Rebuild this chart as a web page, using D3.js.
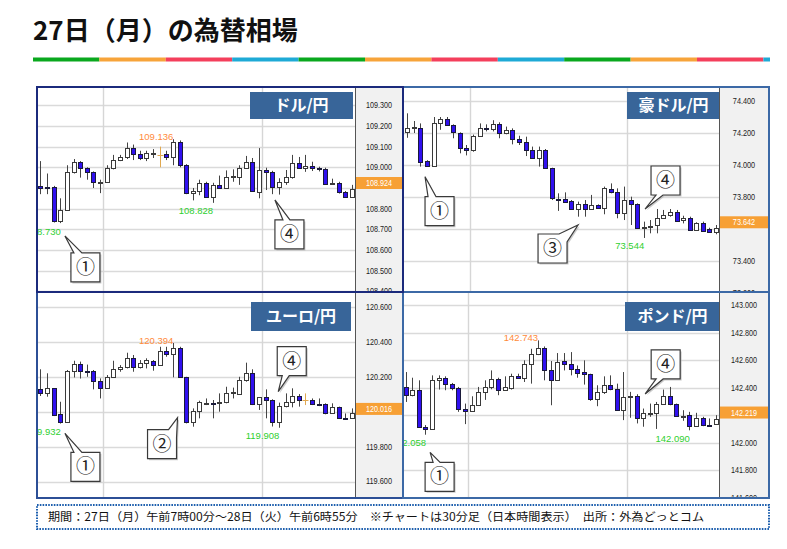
<!DOCTYPE html>
<html><head><meta charset="utf-8">
<script src="https://cdn.jsdelivr.net/npm/d3@7"></script>
<style>body{margin:0;background:#fff}svg{display:block}</style>
</head><body>
<div id="chart"></div>
<script>
// ---------------- data ----------------
const titleText = "27日（月）の為替相場";
const footerText = "期間：27日（月）午前7時00分～28日（火）午前6時55分　※チャートは30分足（日本時間表示）　出所：外為どっとコム";
const stripeColors = ["#0aa81e", "#f7a43a", "#f43f5c", "#1eaad6"];
const pairNames = ["ドル/円", "豪ドル/円", "ユーロ/円", "ポンド/円"];
const gridIdx = [9.5, 33.5]; // 12:00 and 0:00 boundaries

const usdOpen  = [108.910,108.906,108.905,108.740,108.795,108.975,109.025,108.995,108.975,108.929,108.931,108.995,109.035,109.050,109.095,109.065,109.045,109.066,109.060,109.062,109.051,109.124,109.010,108.875,108.886,108.923,108.858,108.915,108.898,108.952,108.955,108.998,109.024,108.880,108.987,108.979,108.907,108.927,108.955,109.020,108.998,109.008,108.995,108.994,108.918,108.925,108.882,108.858];
const usdHigh  = [109.030,108.970,108.910,108.850,109.010,109.040,109.030,109.000,108.980,108.940,109.010,109.060,109.060,109.120,109.110,109.080,109.080,109.088,109.100,109.080,109.136,109.130,109.015,108.900,108.940,108.930,108.925,108.960,108.985,108.990,109.010,109.055,109.045,109.093,108.998,108.983,108.947,108.987,109.060,109.050,109.060,109.027,109.003,108.998,108.945,108.930,108.885,108.915];
const usdLow   = [108.870,108.870,108.733,108.730,108.790,108.970,108.950,108.940,108.900,108.875,108.930,108.990,109.030,109.040,109.035,109.035,109.030,109.045,109.000,109.035,109.010,109.000,108.870,108.840,108.865,108.853,108.828,108.895,108.895,108.930,108.915,108.995,108.882,108.850,108.890,108.870,108.868,108.915,108.945,108.995,108.978,108.982,108.980,108.915,108.915,108.873,108.855,108.855];
const usdClose = [108.900,108.898,108.740,108.795,108.975,109.025,108.995,108.975,108.930,108.931,108.995,109.035,109.050,109.095,109.065,109.045,109.068,109.068,109.060,109.051,109.124,109.010,108.875,108.886,108.923,108.858,108.915,108.898,108.955,108.957,108.998,109.024,108.885,108.987,108.979,108.907,108.927,108.955,109.020,108.998,109.008,108.995,108.994,108.918,108.925,108.882,108.858,108.893];

const audOpen  = [74.208,74.234,74.233,74.025,73.996,74.260,74.285,74.250,74.202,74.108,74.092,74.183,74.233,74.223,74.254,74.198,74.219,74.160,74.142,74.094,74.046,74.094,73.979,73.790,73.785,73.775,73.725,73.754,73.725,73.750,73.729,73.850,73.833,73.698,73.781,73.754,73.608,73.610,73.625,73.671,73.688,73.704,73.658,73.671,73.594,73.635,73.600,73.583];
const audHigh  = [74.323,74.275,74.260,74.030,74.300,74.300,74.300,74.254,74.204,74.125,74.190,74.260,74.254,74.280,74.267,74.240,74.229,74.183,74.177,74.115,74.115,74.100,73.983,73.823,73.829,73.781,73.771,73.781,73.813,73.754,73.865,73.885,73.854,73.865,73.802,73.760,73.646,73.656,73.725,73.719,73.725,73.719,73.683,73.677,73.642,73.646,73.608,73.625];
const audLow   = [74.170,74.200,73.990,73.990,73.996,74.220,74.246,74.167,74.073,74.060,74.083,74.177,74.210,74.210,74.167,74.192,74.129,74.125,74.056,74.038,73.990,73.975,73.781,73.713,73.767,73.719,73.677,73.677,73.720,73.725,73.692,73.823,73.667,73.656,73.625,73.604,73.544,73.573,73.573,73.667,73.677,73.646,73.635,73.588,73.588,73.583,73.579,73.567];
const audClose = [74.230,74.236,74.020,73.996,74.260,74.285,74.250,74.204,74.108,74.092,74.183,74.229,74.225,74.254,74.198,74.219,74.160,74.142,74.094,74.046,74.094,73.979,73.792,73.785,73.771,73.725,73.754,73.725,73.750,73.729,73.854,73.833,73.698,73.781,73.754,73.608,73.610,73.619,73.671,73.688,73.704,73.650,73.671,73.594,73.635,73.590,73.583,73.604];

const eurOpen  = [120.130,120.105,120.134,119.985,119.940,120.233,120.271,120.233,120.233,120.176,120.138,120.201,120.243,120.254,120.309,120.258,120.281,120.292,120.267,120.347,120.330,120.363,120.197,119.943,120.006,120.044,120.050,120.048,120.053,120.105,120.100,120.181,120.224,120.042,120.082,120.067,119.939,120.032,120.057,120.090,120.067,120.067,120.042,120.042,119.990,120.025,119.963,119.962];
const eurHigh  = [120.243,120.220,120.134,120.057,120.239,120.292,120.287,120.270,120.239,120.191,120.210,120.292,120.267,120.338,120.325,120.296,120.306,120.296,120.372,120.372,120.394,120.372,120.200,120.019,120.063,120.076,120.067,120.105,120.143,120.138,120.200,120.281,120.243,120.082,120.128,120.071,120.052,120.105,120.134,120.101,120.105,120.076,120.076,120.048,120.048,120.029,119.990,120.019];
const eurLow   = [120.090,120.086,119.975,119.932,119.939,120.196,120.190,120.200,120.128,120.076,120.138,120.196,120.229,120.248,120.229,120.248,120.248,120.235,120.262,120.315,120.197,120.197,119.933,119.914,119.962,120.038,119.962,120.000,120.048,120.076,120.096,120.172,120.038,120.010,119.962,119.915,119.908,120.025,120.025,120.029,120.038,120.038,120.032,119.985,119.987,119.958,119.960,119.958];
const eurClose = [120.105,120.134,119.981,119.943,120.233,120.271,120.233,120.232,120.176,120.138,120.201,120.243,120.254,120.309,120.258,120.281,120.296,120.267,120.347,120.330,120.363,120.197,119.939,120.006,120.053,120.050,120.048,120.053,120.109,120.115,120.181,120.224,120.042,120.082,120.067,119.939,120.032,120.057,120.090,120.067,120.067,120.042,120.040,119.990,120.025,119.962,119.962,119.990];

const gbpOpen  = [142.405,142.345,142.386,142.116,142.096,142.453,142.472,142.424,142.400,142.248,142.231,142.272,142.369,142.405,142.465,142.386,142.400,142.482,142.472,142.569,142.641,142.689,142.525,142.453,142.590,142.569,142.537,142.513,142.496,142.320,142.369,142.422,142.393,142.236,142.333,142.342,142.176,142.217,142.217,142.280,142.337,142.280,142.193,142.198,142.120,142.183,142.130,142.135];
const gbpHigh  = [142.513,142.472,142.453,142.128,142.489,142.489,142.482,142.434,142.405,142.284,142.337,142.405,142.453,142.525,142.472,142.482,142.501,142.501,142.598,142.682,142.743,142.699,142.593,142.651,142.651,142.658,142.561,142.598,142.501,142.417,142.482,142.489,142.429,142.513,142.369,142.352,142.248,142.284,142.296,142.386,142.405,142.284,142.236,142.224,142.217,142.188,142.176,142.200];
const gbpLow   = [142.296,142.337,142.111,142.058,142.096,142.386,142.381,142.381,142.224,142.135,142.231,142.272,142.311,142.388,142.345,142.381,142.386,142.465,142.441,142.429,142.636,142.453,142.272,142.453,142.525,142.489,142.472,142.422,142.304,142.265,142.354,142.381,142.231,142.164,142.181,142.140,142.116,142.188,142.100,142.280,142.272,142.188,142.159,142.090,142.116,142.120,142.125,142.135];
const gbpClose = [142.345,142.386,142.116,142.096,142.453,142.472,142.429,142.400,142.248,142.231,142.272,142.369,142.405,142.465,142.386,142.405,142.482,142.472,142.569,142.641,142.689,142.525,142.453,142.586,142.569,142.537,142.506,142.496,142.320,142.369,142.422,142.393,142.236,142.333,142.342,142.176,142.217,142.219,142.280,142.337,142.280,142.193,142.195,142.120,142.183,142.128,142.128,142.169];

const lastPrices = [108.924, 73.642, 120.016, 142.219];
const usdTicks = [108.4,108.5,108.6,108.7,108.8,108.9,109.0,109.1,109.2,109.3];
const audTicks = [73.2,73.4,73.6,73.8,74.0,74.2,74.4];
const eurTicks = [119.6,119.8,120.0,120.2,120.4,120.6,120.8];
const gbpTicks = [141.6,141.8,142.0,142.2,142.4,142.6,142.8,143.0];

// labelled extremes: [bar index, "high"|"low"]
const usdMarks = [[20,"high"],[3,"low"],[26,"low"]];
const audMarks = [[36,"low"]];
const eurMarks = [[20,"high"],[3,"low"],[36,"low"]];
const gbpMarks = [[20,"high"],[3,"low"],[43,"low"]];

// callouts: [label, tip bar position, tip price, box dx, box dy, tail type]
const usdCallouts = [["①",3.7,108.668,6,17,"tl"],["④",35.4,108.842,0,20,"tl2"]];
const audCallouts = [["①",2.7,73.927,0,20,"tl"],["③",26.0,73.625,-40,9,"tr"],["④",36.2,73.725,6,-43,"bl"]];
const eurCallouts = [["①",3.7,119.876,6,19,"tl"],["②",20.7,119.966,-30,12,"tr"],["④",35.9,120.115,-1,-45,"bl"]];
const gbpCallouts = [["①",3.7,141.930,-5,10,"tl2"],["④",36.3,142.354,6,-44,"bl"]];

// ---------------- layout ----------------
const W = 787, H = 549, nBars = usdOpen.length;
const panels = [
  {name:pairNames[0], o:usdOpen,h:usdHigh,l:usdLow,c:usdClose,last:lastPrices[0],ticks:usdTicks,marks:usdMarks,callouts:usdCallouts,
   left:37,top:87,right:403,bottom:292,axisX:355,x0:40.4,step:6.625,yRef:[109.0,167.3],ppu:206.7,box:[250,92,103,27],border:"#1b2a7c"},
  {name:pairNames[1], o:audOpen,h:audHigh,l:audLow,c:audClose,last:lastPrices[1],ticks:audTicks,marks:audMarks,callouts:audCallouts,
   left:403,top:87,right:769,bottom:292,axisX:719,x0:407.3,step:6.567,yRef:[74.0,165],ppu:160,box:[627,92,93,27],border:"#3c69a6"},
  {name:pairNames[2], o:eurOpen,h:eurHigh,l:eurLow,c:eurClose,last:lastPrices[2],ticks:eurTicks,marks:eurMarks,callouts:eurCallouts,
   left:37,top:292,right:403,bottom:498,axisX:355,x0:40.4,step:6.625,yRef:[120.0,411.7],ppu:174.5,box:[251,302,100,29],border:"#2c4f96"},
  {name:pairNames[3], o:gbpOpen,h:gbpHigh,l:gbpLow,c:gbpClose,last:lastPrices[3],ticks:gbpTicks,marks:gbpMarks,callouts:gbpCallouts,
   left:403,top:292,right:769,bottom:498,axisX:719,x0:405.7,step:6.597,yRef:[142.0,442.7],ppu:137.7,box:[625,302,95,29],border:"#3c69a6"}
];

const svg = d3.select("#chart").append("svg").attr("width", W).attr("height", H);
const defs = svg.append("defs");
const fmt = d3.format(".3f");
const CJK = "'Noto Sans CJK JP','Noto Sans',sans-serif";
const LAT = "'Liberation Sans',Arial,sans-serif";

// title
svg.append("text").attr("x", 33).attr("y", 40).text(titleText)
  .attr("font-family", CJK).attr("font-weight", 700).attr("font-size", 26).attr("fill", "#111");

// stripe
const segW = 66.4, stripeL = 33, stripeR = 770;
const segs = d3.range(Math.ceil((stripeR - stripeL) / segW));
svg.selectAll("rect.stripe").data(segs).join("rect").attr("class","stripe")
  .attr("x", i => stripeL + i * segW).attr("y", 57.5)
  .attr("width", i => Math.min(segW, stripeR - (stripeL + i * segW))).attr("height", 4)
  .attr("fill", i => stripeColors[i % stripeColors.length]);

function calloutPath(t, bx, by, w, h, type) {
  const [tx, ty] = t;
  if (type === "tl") return `M${bx},${by}L${bx+3},${by}L${tx},${ty}L${bx+11},${by}L${bx+w},${by}L${bx+w},${by+h}L${bx},${by+h}Z`;
  if (type === "tl2") return `M${bx},${by}L${bx+8},${by}L${tx},${ty}L${bx+15},${by}L${bx+w},${by}L${bx+w},${by+h}L${bx},${by+h}Z`;
  if (type === "tr") return `M${bx},${by}L${bx+w-8},${by}L${tx},${ty}L${bx+w},${by+8}L${bx+w},${by+h}L${bx},${by+h}Z`;
  return `M${bx},${by}L${bx+w},${by}L${bx+w},${by+h}L${bx+12},${by+h}L${tx},${ty}L${bx+5},${by+h}L${bx},${by+h}Z`;
}

panels.forEach((p, pi) => {
  const g = svg.append("g");
  const x = d3.scaleLinear().domain([0, nBars - 1]).range([p.x0, p.x0 + (nBars - 1) * p.step]);
  const y = d3.scaleLinear().domain([p.yRef[0], p.yRef[0] + 1]).range([p.yRef[1], p.yRef[1] - p.ppu]);

  const clipId = "plotclip" + pi, clipAx = "axclip" + pi;
  defs.append("clipPath").attr("id", clipId).append("rect")
    .attr("x", p.left + 1).attr("y", p.top + 1).attr("width", p.axisX - p.left - 1).attr("height", p.bottom - p.top - 2);
  defs.append("clipPath").attr("id", clipAx).append("rect")
    .attr("x", p.axisX).attr("y", p.top + 1).attr("width", p.right - p.axisX).attr("height", p.bottom - p.top - 2);

  g.append("rect").attr("x", p.left).attr("y", p.top).attr("width", p.axisX - p.left).attr("height", p.bottom - p.top).attr("fill", "#fff");
  const plot = g.append("g").attr("clip-path", `url(#${clipId})`);

  plot.selectAll("line.hg").data(p.ticks).join("line").attr("class","hg")
    .attr("x1", p.left).attr("x2", p.axisX)
    .attr("y1", d => Math.round(y(d)) + 0.5).attr("y2", d => Math.round(y(d)) + 0.5)
    .attr("stroke", "#dadada").attr("stroke-width", 1.4);
  plot.selectAll("line.vg").data(gridIdx).join("line").attr("class","vg")
    .attr("x1", d => Math.round(x(d)) + 0.5).attr("x2", d => Math.round(x(d)) + 0.5)
    .attr("y1", p.top).attr("y2", p.bottom)
    .attr("stroke", "#d6d6d6").attr("stroke-width", 1.4);

  const bars = d3.range(nBars).map(i => ({i, o: p.o[i], h: p.h[i], l: p.l[i], c: p.c[i]}));
  const cg = plot.selectAll("g.bar").data(bars).join("g").attr("class", "bar");
  const kind = d => d.o === d.c ? "doji" : (d.c > d.o ? "up" : "down");
  const cx = d => Math.round(x(d.i)) + 0.5;
  cg.append("line")
    .attr("x1", cx).attr("x2", cx).attr("y1", d => y(d.h)).attr("y2", d => y(d.l))
    .attr("stroke", d => kind(d) === "doji" ? "#e0a850" : "#444").attr("stroke-width", 1);
  cg.filter(d => kind(d) !== "doji").append("rect")
    .attr("x", d => cx(d) - 2).attr("width", 4)
    .attr("y", d => Math.round(y(Math.max(d.o, d.c))) + 0.5)
    .attr("height", d => Math.max(1, Math.round(y(Math.min(d.o, d.c))) - Math.round(y(Math.max(d.o, d.c)))))
    .attr("fill", d => kind(d) === "up" ? "#fff" : "#3010f0")
    .attr("stroke", d => kind(d) === "up" ? "#3a3a3a" : "#1a1a3a").attr("stroke-width", 1);
  cg.filter(d => kind(d) === "doji").append("line")
    .attr("x1", d => cx(d) - 3).attr("x2", d => cx(d) + 3)
    .attr("y1", d => Math.round(y(d.o)) + 0.5).attr("y2", d => Math.round(y(d.o)) + 0.5)
    .attr("stroke", "#e0a850");

  // extreme labels
  plot.selectAll("text.mk").data(p.marks).join("text").attr("class", "mk")
    .attr("x", d => x(d[0]) + 0.5)
    .attr("y", d => d[1] === "high" ? y(p.h[d[0]]) + 1 : y(p.l[d[0]]) + 11.5)
    .attr("text-anchor", "end").attr("font-family", LAT).attr("font-size", 9.5)
    .attr("fill", d => d[1] === "high" ? "#ff8a3a" : "#2fcf2f")
    .text(d => fmt(d[1] === "high" ? p.h[d[0]] : p.l[d[0]]));

  // pair title box
  g.append("rect").attr("x", p.box[0]).attr("y", p.box[1]).attr("width", p.box[2]).attr("height", p.box[3]).attr("fill", "#386599");
  g.append("text").attr("x", p.box[0] + p.box[2] / 2).attr("y", p.box[1] + p.box[3] / 2).attr("dy", "0.36em")
    .attr("text-anchor", "middle").attr("font-family", CJK).attr("font-weight", 700).attr("font-size", 16)
    .attr("fill", "#fff").text(p.name);

  // callouts
  const cw = 29, ch = 29;
  p.callouts.forEach(co => {
    const tip = [x(co[1]), y(co[2])];
    const bx = tip[0] + co[3], by = tip[1] + co[4];
    const d = calloutPath(tip, bx, by, cw, ch, co[5]);
    g.append("path").attr("d", d).attr("transform", "translate(1.5,1.5)").attr("fill", "#b5b5b5").attr("opacity", 0.7);
    g.append("path").attr("d", d).attr("fill", "#fff").attr("stroke", "#3a3a3a").attr("stroke-width", 1.2);
    g.append("text").attr("x", bx + cw / 2).attr("y", by + ch / 2).attr("dy", "0.35em")
      .attr("text-anchor", "middle").attr("font-family", CJK).attr("font-size", 19).attr("fill", "#222").text(co[0]);
  });

  // axis area
  g.append("rect").attr("x", p.axisX).attr("y", p.top).attr("width", p.right - p.axisX).attr("height", p.bottom - p.top).attr("fill", "#f1f1f1");
  const ax = g.append("g").attr("clip-path", `url(#${clipAx})`);
  const visibleTicks = p.ticks.filter(t => Math.abs(y(t) - y(p.last)) > 10);
  ax.selectAll("text.tk").data(visibleTicks).join("text").attr("class", "tk")
    .attr("x", (p.axisX + p.right) / 2).attr("y", d => y(d)).attr("dy", "0.35em")
    .attr("text-anchor", "middle").attr("font-family", LAT).attr("font-size", 8.5).attr("fill", "#222")
    .attr("textLength", d => fmt(d).length * 3.72).attr("lengthAdjust", "spacingAndGlyphs")
    .text(d => fmt(d));
  ax.append("rect").attr("x", p.axisX).attr("y", y(p.last) - 6).attr("width", p.right - p.axisX).attr("height", 12)
    .attr("fill", "#f7a035");
  ax.append("text").attr("x", (p.axisX + p.right) / 2).attr("y", y(p.last)).attr("dy", "0.35em")
    .attr("text-anchor", "middle").attr("font-family", LAT).attr("font-size", 8.5).attr("fill", "#fff")
    .attr("textLength", fmt(p.last).length * 3.72).attr("lengthAdjust", "spacingAndGlyphs").text(fmt(p.last));
  g.append("line").attr("x1", p.axisX + 0.5).attr("x2", p.axisX + 0.5).attr("y1", p.top).attr("y2", p.bottom).attr("stroke", "#555");
});

// borders (top-left last so it sits on top)
[1, 2, 3, 0].forEach(pi => {
  const p = panels[pi];
  svg.append("rect").attr("x", p.left).attr("y", p.top).attr("width", p.right - p.left).attr("height", p.bottom - p.top)
    .attr("fill", "none").attr("stroke", p.border).attr("stroke-width", 2);
});

// footer
svg.append("rect").attr("x", 37).attr("y", 505).attr("width", 732).attr("height", 24)
  .attr("fill", "none").attr("stroke", "#1d5fae").attr("stroke-width", 2).attr("stroke-dasharray", "1.6,1.2");
svg.append("text").attr("x", 48).attr("y", 521).attr("font-family", CJK).attr("font-size", 11.5).attr("fill", "#111")
  .attr("textLength", 656).attr("lengthAdjust", "spacingAndGlyphs").text(footerText);
</script>
</body></html>
